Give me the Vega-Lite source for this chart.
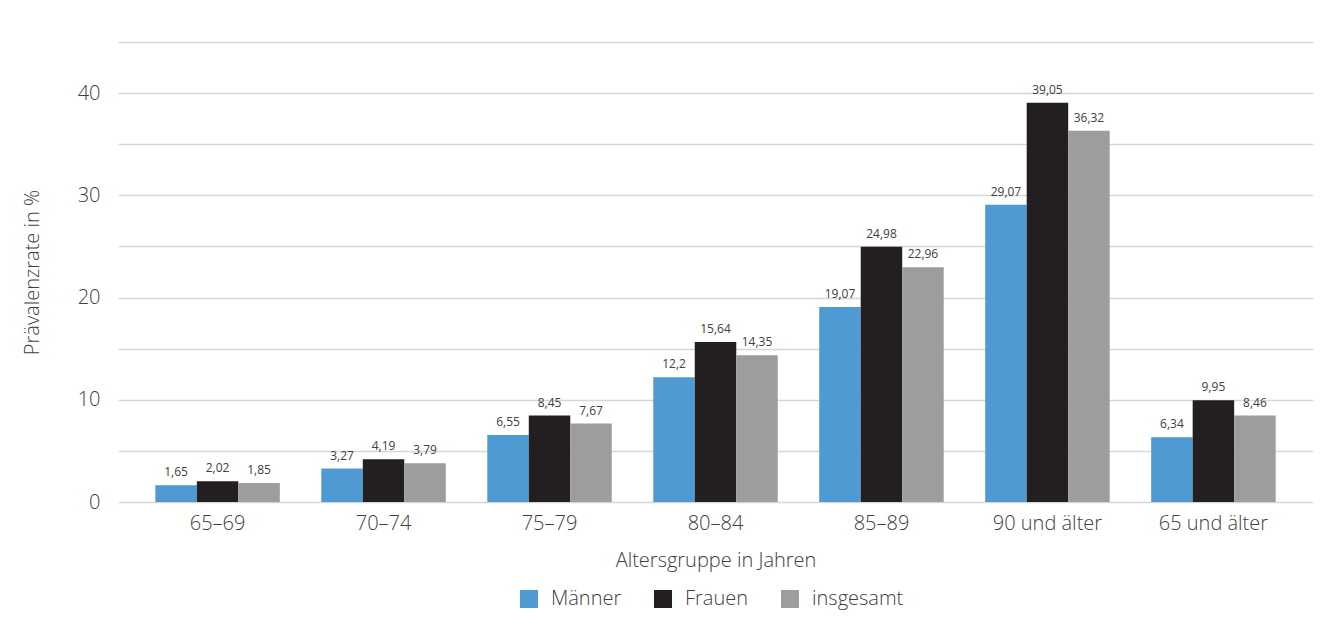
{
  "$schema": "https://vega.github.io/schema/vega-lite/v6.json",
  "autosize": {"type": "none"},
  "width": 1195,
  "height": 460,
  "padding": {"left": 118, "top": 42, "right": 19, "bottom": 139},
  "background": "white",
  "config": {
    "locale": {"number": {"decimal": ",", "thousands": ".", "grouping": [3], "currency": ["", " €"]}},
    "font": "Open Sans",
    "view": {"stroke": null},
    "axis": {
      "labelFont": "Open Sans",
      "labelFontWeight": 300,
      "labelFontSize": 20,
      "labelColor": "#404040",
      "titleFont": "Open Sans",
      "titleFontWeight": 300,
      "titleFontSize": 20,
      "titleColor": "#404040",
      "domain": false,
      "ticks": false
    },
    "legend": {
      "labelFont": "Open Sans",
      "labelFontWeight": 300,
      "labelFontSize": 20,
      "labelColor": "#404040"
    }
  },
  "data": {
    "values": [
      {"gruppe": "65–69", "geschlecht": "Männer", "wert": 1.65},
      {"gruppe": "65–69", "geschlecht": "Frauen", "wert": 2.02},
      {"gruppe": "65–69", "geschlecht": "insgesamt", "wert": 1.85},
      {"gruppe": "70–74", "geschlecht": "Männer", "wert": 3.27},
      {"gruppe": "70–74", "geschlecht": "Frauen", "wert": 4.19},
      {"gruppe": "70–74", "geschlecht": "insgesamt", "wert": 3.79},
      {"gruppe": "75–79", "geschlecht": "Männer", "wert": 6.55},
      {"gruppe": "75–79", "geschlecht": "Frauen", "wert": 8.45},
      {"gruppe": "75–79", "geschlecht": "insgesamt", "wert": 7.67},
      {"gruppe": "80–84", "geschlecht": "Männer", "wert": 12.2},
      {"gruppe": "80–84", "geschlecht": "Frauen", "wert": 15.64},
      {"gruppe": "80–84", "geschlecht": "insgesamt", "wert": 14.35},
      {"gruppe": "85–89", "geschlecht": "Männer", "wert": 19.07},
      {"gruppe": "85–89", "geschlecht": "Frauen", "wert": 24.98},
      {"gruppe": "85–89", "geschlecht": "insgesamt", "wert": 22.96},
      {"gruppe": "90 und älter", "geschlecht": "Männer", "wert": 29.07},
      {"gruppe": "90 und älter", "geschlecht": "Frauen", "wert": 39.05},
      {"gruppe": "90 und älter", "geschlecht": "insgesamt", "wert": 36.32},
      {"gruppe": "65 und älter", "geschlecht": "Männer", "wert": 6.34},
      {"gruppe": "65 und älter", "geschlecht": "Frauen", "wert": 9.95},
      {"gruppe": "65 und älter", "geschlecht": "insgesamt", "wert": 8.46}
    ]
  },
  "encoding": {
    "x": {
      "field": "gruppe",
      "type": "nominal",
      "sort": null,
      "scale": {"paddingInner": 0, "paddingOuter": 0.1},
      "axis": {"title": "Altersgruppe in Jahren", "labelAngle": 0, "labelPadding": 11, "titlePadding": 17}
    },
    "xOffset": {
      "field": "geschlecht",
      "type": "nominal",
      "sort": ["Männer", "Frauen", "insgesamt"],
      "scale": {"paddingInner": 0, "paddingOuter": 0.5}
    },
    "y": {
      "field": "wert",
      "type": "quantitative",
      "scale": {"domain": [0, 45], "nice": false},
      "axis": {
        "title": "Prävalenzrate in %",
        "values": [0, 5, 10, 15, 20, 25, 30, 35, 40, 45],
        "labelExpr": "datum.value % 10 === 0 && datum.value < 45 ? datum.label : ''",
        "labelPadding": 18,
        "titlePadding": 35,
        "gridColor": "#d6d6d6",
        "gridWidth": 1.5
      }
    }
  },
  "layer": [
    {
      "mark": {"type": "bar"},
      "encoding": {
        "color": {
          "field": "geschlecht",
          "type": "nominal",
          "sort": ["Männer", "Frauen", "insgesamt"],
          "scale": {"domain": ["Männer", "Frauen", "insgesamt"], "range": ["#4f9ad3", "#231f20", "#9d9d9f"]},
          "legend": {
            "title": null,
            "orient": "none",
            "direction": "horizontal",
            "legendX": 401,
            "legendY": 547,
            "padding": 0,
            "symbolType": "square",
            "symbolSize": 324,
            "symbolStrokeWidth": 0,
            "symbolOpacity": 1,
            "labelOffset": 12,
            "columnPadding": 31
          }
        }
      }
    },
    {
      "mark": {"type": "text", "dy": -9, "baseline": "alphabetic", "fontSize": 12, "font": "Open Sans", "fontWeight": 400, "color": "#404040"},
      "encoding": {
        "text": {"field": "wert", "type": "quantitative", "format": "~f"}
      }
    }
  ]
}
